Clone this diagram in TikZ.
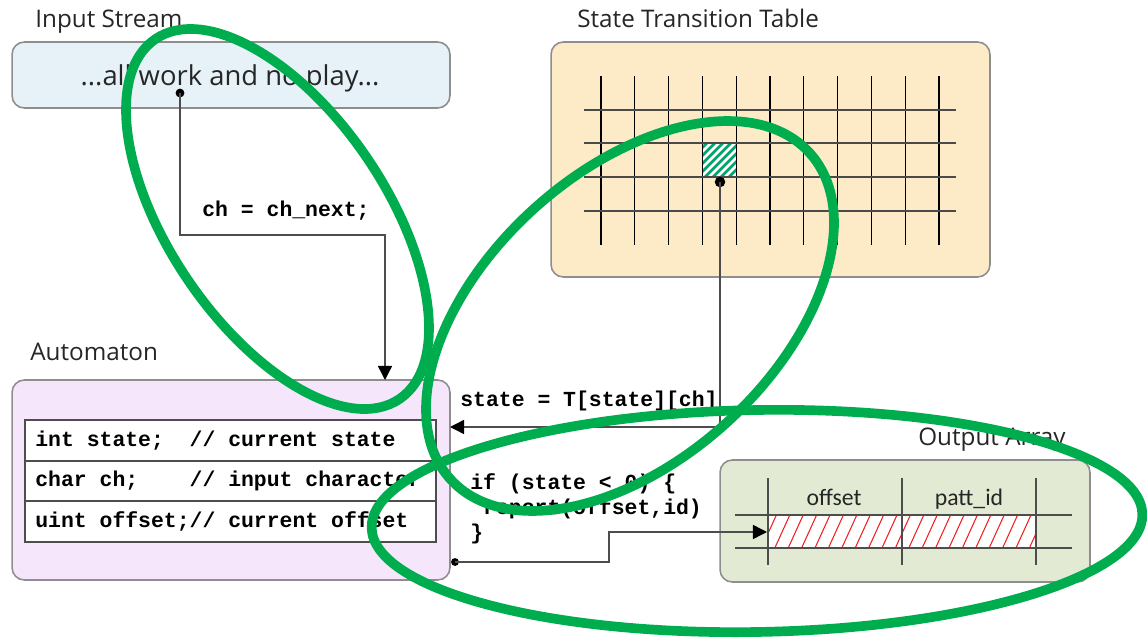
\documentclass[tikz,border=0pt]{standalone}
\usepackage{fontspec}
\setmainfont{Open Sans}
\setmonofont{Liberation Mono}
\newfontfamily\calfont{Carlito}
\usetikzlibrary{arrows.meta}
\definecolor{boxgray}{HTML}{8E8E8E}
\definecolor{linegray}{HTML}{4D4D4D}
\definecolor{inFill}{HTML}{E6F2F8}
\definecolor{tblFill}{HTML}{FDEBC8}
\definecolor{autoFill}{HTML}{F5E6FC}
\definecolor{outFill}{HTML}{E3EAD3}
\definecolor{hlgreen}{HTML}{00AD4E}
\definecolor{cellgreen}{HTML}{00A36C}
\definecolor{txtgray}{HTML}{262626}
\definecolor{hgray}{HTML}{4A4A4A}
\definecolor{hatchred}{HTML}{F02020}
\begin{document}
\begin{tikzpicture}[x=0.02cm,y=-0.02cm,
  box/.style={draw=boxgray, line width=0.9pt, rounded corners=7pt, inner sep=0pt},
  hdr/.style={anchor=base west, inner sep=0pt, font=\fontsize{13.8}{16}\selectfont, text=txtgray},
  code/.style={inner sep=0pt, anchor=base west, font=\fontsize{12.2}{14}\selectfont\ttfamily\bfseries},
  conn/.style={draw=linegray, line width=0.8pt},
  arr/.style={conn, -{Triangle[length=8pt,width=8pt,color=black]}},
  dot/.style={circle, fill=black, inner sep=0pt, minimum size=5pt},
  hl/.style={draw=hlgreen, line width=5.5pt},
  gridv/.style={draw=black, line width=0.7pt},
  gridh/.style={draw=hgray, line width=0.9pt}]
\useasboundingbox (0,0) rectangle (1147,639);

% ---------- Input stream ----------
\node[hdr] (inHdr) at (35,28) {Input Stream};
\node[box, fill=inFill, minimum width=8.76cm, minimum height=1.32cm] (input) at (231,75) {};
\node[anchor=base, inner sep=0pt, font=\fontsize{15.6}{18}\selectfont, text=txtgray] (inText) at (230,85) {...all work and no play...};

% ---------- State transition table ----------
\node[hdr] (tblHdr) at (577,28) {State Transition Table};
\node[box, fill=tblFill, minimum width=8.78cm, minimum height=4.7cm] (table) at (770.5,159.5) {};
\begin{scope}
  \clip (703,143) rectangle (736,177);
  \fill[white] (703,143) rectangle (736,177);
  \foreach \k in {-2,...,10} \draw[cellgreen, line width=1.6pt] (660+\k*8,190) -- ++(60,-60);
\end{scope}
\foreach \i in {0,...,10} \draw[gridv] (601+\i*33.8,76) -- (601+\i*33.8,245);
\foreach \y in {110,143,177,211} \draw[gridh] (584,\y) -- (956,\y);
\node[dot, minimum size=6pt] (tblDot) at (720,182) {};

% ---------- Automaton ----------
\node[hdr] (autoHdr) at (30,360) {Automaton};
\node[box, fill=autoFill, minimum width=8.76cm, minimum height=4cm] (auto) at (231,480) {};
\node[draw=linegray, fill=white, line width=0.8pt, minimum width=8.22cm, minimum height=2.44cm, inner sep=0pt] (vars) at (230.5,481) {};
\draw[linegray, line width=0.8pt] (vars.west |- 0,461) -- (vars.east |- 0,461);
\draw[linegray, line width=0.8pt] (vars.west |- 0,501) -- (vars.east |- 0,501);
\node[code] (row1) at (35,446) {int state;\hphantom{xx}// current state};
\node[code] (row2) at (35,486) {char ch;\hphantom{xxxx}// input character};
\node[code] (row3) at (35,527) {uint offset;// current offset};

% ---------- Output array ----------
\node[hdr] (outHdr) at (918,445) {Output Array};
\node[box, fill=outFill, minimum width=7.4cm, minimum height=2.44cm] (out) at (905,521) {};
\begin{scope}
  \clip (768,515) rectangle (1036,548);
  \fill[white] (768,515) rectangle (1036,548);
  \foreach \k in {0,...,22} \draw[hatchred, line width=0.6pt] (748+\k*13.4,548) -- ++(15,-33);
\end{scope}
\foreach \x in {768,902,1036} \draw[conn] (\x,478) -- (\x,565);
\foreach \y in {515,548} \draw[conn] (735,\y) -- (1072,\y);
\node[anchor=base, inner sep=0pt, font=\calfont\fontsize{13.5}{15}\selectfont, text=txtgray] (offLbl) at (834,505) {offset};
\node[anchor=base, inner sep=0pt, font=\calfont\fontsize{13.5}{15}\selectfont, text=txtgray] (pidLbl) at (969,505) {patt\_id};

% ---------- Connectors ----------
\node[dot] (inDot) at (180,93) {};
\coordinate (chEnd) at (385,380);
\draw[arr] (inDot.center) -- (180,235) -| (chEnd);
\node[code] (chLbl) at (202,216) {ch = ch\_next;};

\coordinate (stEnd) at (450,427);
\draw[arr] (tblDot.center) |- (stEnd);
\node[code] (stLbl) at (460,406) {state = T[state][ch]};

\node[code] (if1) at (470,489) {if (state < 0) \{};
\node[code] (if2) at (470,514) {\hphantom{x}report(offset,id)};
\node[code] (if3) at (470,539) {\}};

\node[dot, minimum size=4.5pt] (outDot) at (455,562) {};
\coordinate (outEnd) at (767,532);
\draw[arr] (outDot.center) -- (609,562) |- (outEnd);

% ---------- Highlight ellipses ----------
\draw[hl, rotate around={-55.85:(277.5,219)}] (277.5,219) ellipse [x radius=4.35cm, y radius=2.168cm];
\draw[hl, rotate around={42.3:(630,316)}] (630,316) ellipse [x radius=4.854cm, y radius=2.88cm];
\draw[hl, rotate around={1:(757,521)}] (757,521) ellipse [x radius=7.71cm, y radius=2.22cm];
\end{tikzpicture}
\end{document}
